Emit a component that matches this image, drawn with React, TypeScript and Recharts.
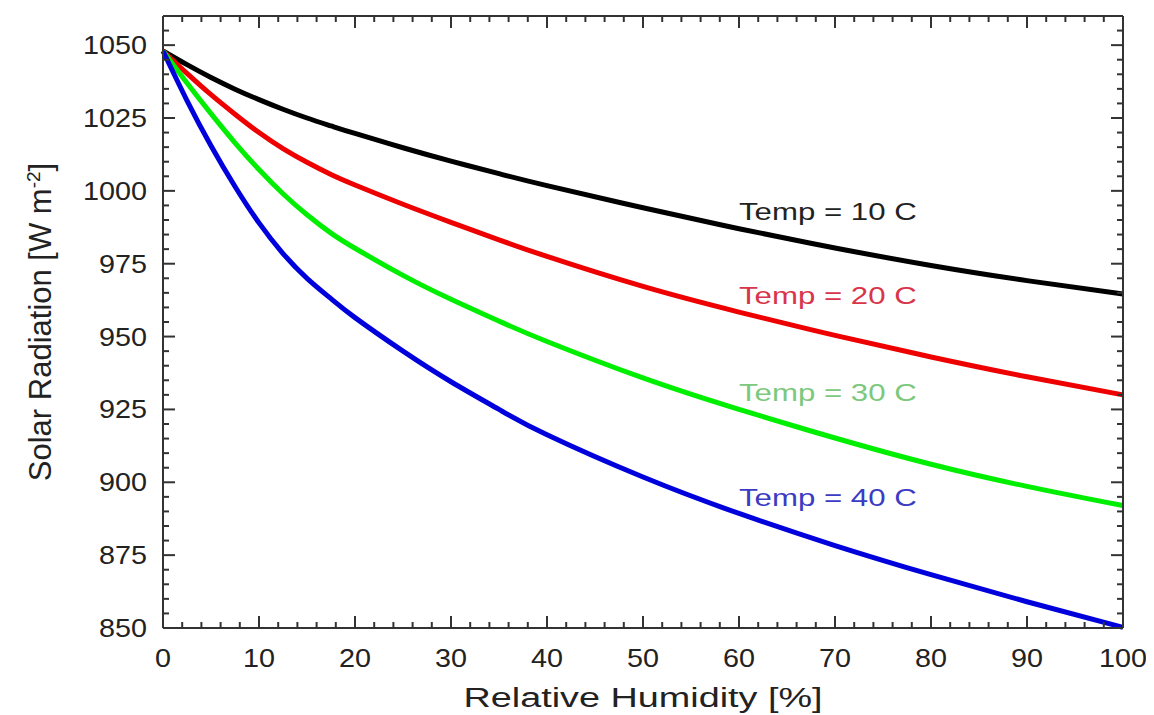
import React from 'react';
import { LineChart, Line, XAxis, YAxis, ReferenceDot } from 'recharts';

// relative humidity [%] and solar radiation [W m-2]
const humidity = [0, 2.5, 5, 7.5, 10, 12.5, 15, 17.5, 20, 25, 30, 35, 40, 50, 60, 70, 80, 90, 100];
const temp10 = [1048, 1043.3, 1038.9, 1034.9, 1031.3, 1028, 1025, 1022.3, 1019.7, 1014.8, 1010.2, 1005.9, 1001.8, 994.2, 987, 980.4, 974.4, 969.2, 964.6];
const temp20 = [1048, 1040.3, 1033, 1026.3, 1020, 1014.5, 1009.8, 1005.6, 1002, 995.4, 989.2, 983.2, 977.5, 967.2, 958.4, 950.4, 943, 936.2, 930];
const temp30 = [1048, 1037, 1026.5, 1016.5, 1007.3, 999, 991.8, 985.5, 980.3, 971, 962.8, 955.3, 948.3, 935.8, 925, 915.2, 906.2, 898.6, 892];
const temp40 = [1048, 1031, 1015.5, 1001.5, 989, 978.5, 970, 963, 956.5, 945, 934.5, 925, 916.3, 901.8, 889.3, 878.3, 868.3, 859, 850.2];

const seriesNames = ['Temp = 10 C', 'Temp = 20 C', 'Temp = 30 C', 'Temp = 40 C'];
const lineColors = ['#000000', '#ee0000', '#00ee00', '#0000dd'];
const labelColors = ['#222222', '#d8344a', '#7cc87c', '#3b3bc4'];
const labelX = 60;
const labelY = [993, 964, 931, 895];

const xTicks = [
	0, 2, 4, 6, 8, 10, 12, 14, 16, 18, 20, 22, 24, 26, 28, 30, 32, 34, 36, 38, 40, 42, 44, 46, 48, 50,
	52, 54, 56, 58, 60, 62, 64, 66, 68, 70, 72, 74, 76, 78, 80, 82, 84, 86, 88, 90, 92, 94, 96, 98, 100,
];
const yTicks = [
	850, 855, 860, 865, 870, 875, 880, 885, 890, 895, 900, 905, 910, 915, 920, 925, 930, 935, 940, 945,
	950, 955, 960, 965, 970, 975, 980, 985, 990, 995, 1000, 1005, 1010, 1015, 1020, 1025, 1030, 1035,
	1040, 1045, 1050, 1055, 1060,
];

const data = humidity.map((rh, i) => ({
	rh,
	t10: temp10[i],
	t20: temp20[i],
	t30: temp30[i],
	t40: temp40[i],
}));
const keys = ['t10', 't20', 't30', 't40'];

const FONT = '"Liberation Sans", Arial, sans-serif';
const AXIS = '#333';

const XTick = (props: any) => {
	const { x, y, payload, side } = props;
	const v = payload.value;
	const major = v % 10 === 0;
	const len = major ? 12 : 6;
	const dir = side === 'top' ? 1 : -1;
	return (
		<g>
			<line x1={x} y1={y} x2={x} y2={y + dir * len} stroke={AXIS} strokeWidth={2} />
			{side === 'bottom' && major && (
				<text transform={`translate(${x},${y + 39}) scale(1.15,1)`} textAnchor='middle' fontSize={25} fill='#222' fontFamily={FONT}>
					{v}
				</text>
			)}
		</g>
	);
};

const YTick = (props: any) => {
	const { x, y, payload, side } = props;
	const v = payload.value;
	const major = v % 25 === 0;
	const len = major ? 12 : 6;
	const dir = side === 'left' ? 1 : -1;
	return (
		<g>
			<line x1={x} y1={y} x2={x + dir * len} y2={y} stroke={AXIS} strokeWidth={2} />
			{side === 'left' && major && (
				<text transform={`translate(${x - 16},${y}) scale(1.15,1)`} dy='0.36em' textAnchor='end' fontSize={25} fill='#222' fontFamily={FONT}>
					{v}
				</text>
			)}
		</g>
	);
};

const XTitle = (props: any) => {
	const { viewBox } = props;
	const cx = viewBox.x + viewBox.width / 2;
	return (
		<text transform={`translate(${cx},${viewBox.y + 79}) scale(1.35,1)`} textAnchor='middle' fontSize={28} fill='#222' fontFamily={FONT}>
			Relative Humidity [%]
		</text>
	);
};

const YTitle = (props: any) => {
	const { viewBox } = props;
	const cy = viewBox.y + viewBox.height / 2;
	return (
		<text transform={`translate(43,${cy}) rotate(-90)`} textAnchor='middle' fontSize={31} fill='#222' fontFamily={FONT}>
			Solar Radiation [W m
			<tspan dy={-11} fontSize={19}>
				-2
			</tspan>
			<tspan dy={11}>]</tspan>
		</text>
	);
};

const SeriesLabel = (text: string, color: string) => (props: any) => (
	<text transform={`translate(${props.cx},${props.cy}) scale(1.3,1)`} dy='0.36em' textAnchor='start' fontSize={24} fill={color} fontFamily={FONT}>
		{text}
	</text>
);

export default function App() {
	return (
		<LineChart width={1146} height={707} data={data} margin={{ top: 7, right: 30, left: 0, bottom: 0 }}>
			<XAxis
				dataKey='rh'
				type='number'
				domain={[0, 100]}
				ticks={xTicks}
				interval={0}
				height={87}
				tickSize={0}
				tickMargin={0}
				tickLine={false}
				axisLine={{ stroke: AXIS, strokeWidth: 2 }}
				tick={(p: any) => <XTick {...p} side='bottom' />}
				label={<XTitle />}
			/>
			<XAxis
				xAxisId='top'
				orientation='top'
				dataKey='rh'
				type='number'
				domain={[0, 100]}
				ticks={xTicks}
				interval={0}
				height={1}
				tickSize={0}
				tickMargin={0}
				tickLine={false}
				axisLine={{ stroke: AXIS, strokeWidth: 2 }}
				tick={(p: any) => <XTick {...p} side='top' />}
			/>
			<YAxis
				type='number'
				domain={[850, 1060]}
				ticks={yTicks}
				interval={0}
				width={155}
				tickSize={0}
				tickMargin={0}
				tickLine={false}
				axisLine={{ stroke: AXIS, strokeWidth: 2 }}
				tick={(p: any) => <YTick {...p} side='left' />}
				label={<YTitle />}
			/>
			<YAxis
				yAxisId='right'
				orientation='right'
				type='number'
				domain={[850, 1060]}
				ticks={yTicks}
				interval={0}
				width={1}
				tickSize={0}
				tickMargin={0}
				tickLine={false}
				axisLine={{ stroke: AXIS, strokeWidth: 2 }}
				tick={(p: any) => <YTick {...p} side='right' />}
			/>
			{/* invisible series so the top and right frame axes get drawn */}
			<Line xAxisId='top' yAxisId='right' dataKey='t10' stroke='none' dot={false} activeDot={false} isAnimationActive={false} />
			{keys.map((k, i) => (
				<Line key={k} type='natural' dataKey={k} stroke={lineColors[i]} strokeWidth={5} dot={false} isAnimationActive={false} />
			))}
			{seriesNames.map((name, i) => (
				<ReferenceDot key={name} x={labelX} y={labelY[i]} r={0} shape={SeriesLabel(name, labelColors[i])} />
			))}
		</LineChart>
	);
}
